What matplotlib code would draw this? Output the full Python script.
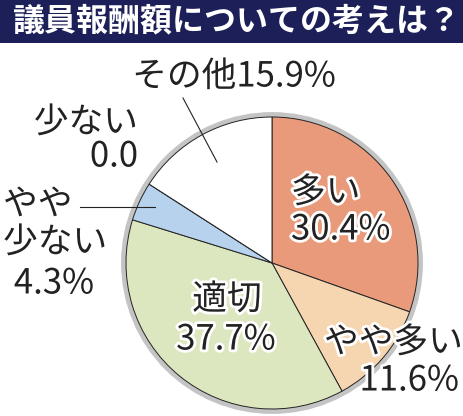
import matplotlib.pyplot as plt
import matplotlib.patheffects as pe
from matplotlib.patches import Rectangle, Circle

plt.rcParams['font.family'] = ['Noto Sans CJK JP', 'DejaVu Sans']

title = "議員報酬額についての考えは？"
labels = ["多い", "やや多い", "適切", "やや少ない", "少ない", "その他"]
values = [30.4, 11.6, 37.7, 4.3, 0.0, 15.9]
colors = ["#e99a7a", "#f6d6b0", "#dde7bf", "#b7d2ec", "#ffffff", "#ffffff"]

W, H = 464, 416
fig = plt.figure(figsize=(W / 100, H / 100), dpi=100)
ax = fig.add_axes([0, 0, 1, 1])

cx, cy, r = 272, 416 - 263, 146

# gray ring behind the pie
ax.add_patch(Circle((cx, cy), r + 2.5, facecolor="none", edgecolor="#c4c4c4", lw=3.5, zorder=1))
ax.pie(values, colors=colors, startangle=90, counterclock=False,
       center=(cx, cy), radius=r, frame=True,
       wedgeprops=dict(edgecolor="#222222", linewidth=0.7))
ax.set_xlim(0, W)
ax.set_ylim(0, H)
ax.set_aspect("equal")
ax.axis("off")

# title bar
ax.add_patch(Rectangle((0, H - 43), W, 43, facecolor="#1c1f58", edgecolor="none", zorder=5))
ax.text(236, H - 21, title, color="white", fontsize=23, fontweight="bold",
        ha="center", va="center", zorder=6)

tc = "#222222"
halo = [pe.withStroke(linewidth=4, foreground="white")]
fs = 25

def lab(x, y, s, ha="left"):
    ax.text(x, H - y, s, fontsize=fs, color=tc, ha=ha, va="center",
            path_effects=halo, zorder=7)

# inside labels
lab(291, 193, "多い")
lab(291, 230, "30.4%")
lab(227, 300, "適切", ha="center")
lab(226, 340, "37.7%", ha="center")
lab(324, 343, "やや多い")
lab(459, 381, "11.6%", ha="right")

# outside labels
lab(234, 77, "その他15.9%", ha="center")
lab(138, 123, "少ない", ha="right")
lab(138, 157, "0.0", ha="right")
lab(3, 205, "やや")
lab(3, 243, "少ない")
lab(54, 284, "4.3%", ha="center")

# leader lines
ax.plot([183, 217], [H - 98, H - 162], color=tc, lw=0.8, zorder=7)
ax.plot([80, 155], [H - 207, H - 207], color=tc, lw=0.8, zorder=7)

fig.savefig("out.png", dpi=100)
